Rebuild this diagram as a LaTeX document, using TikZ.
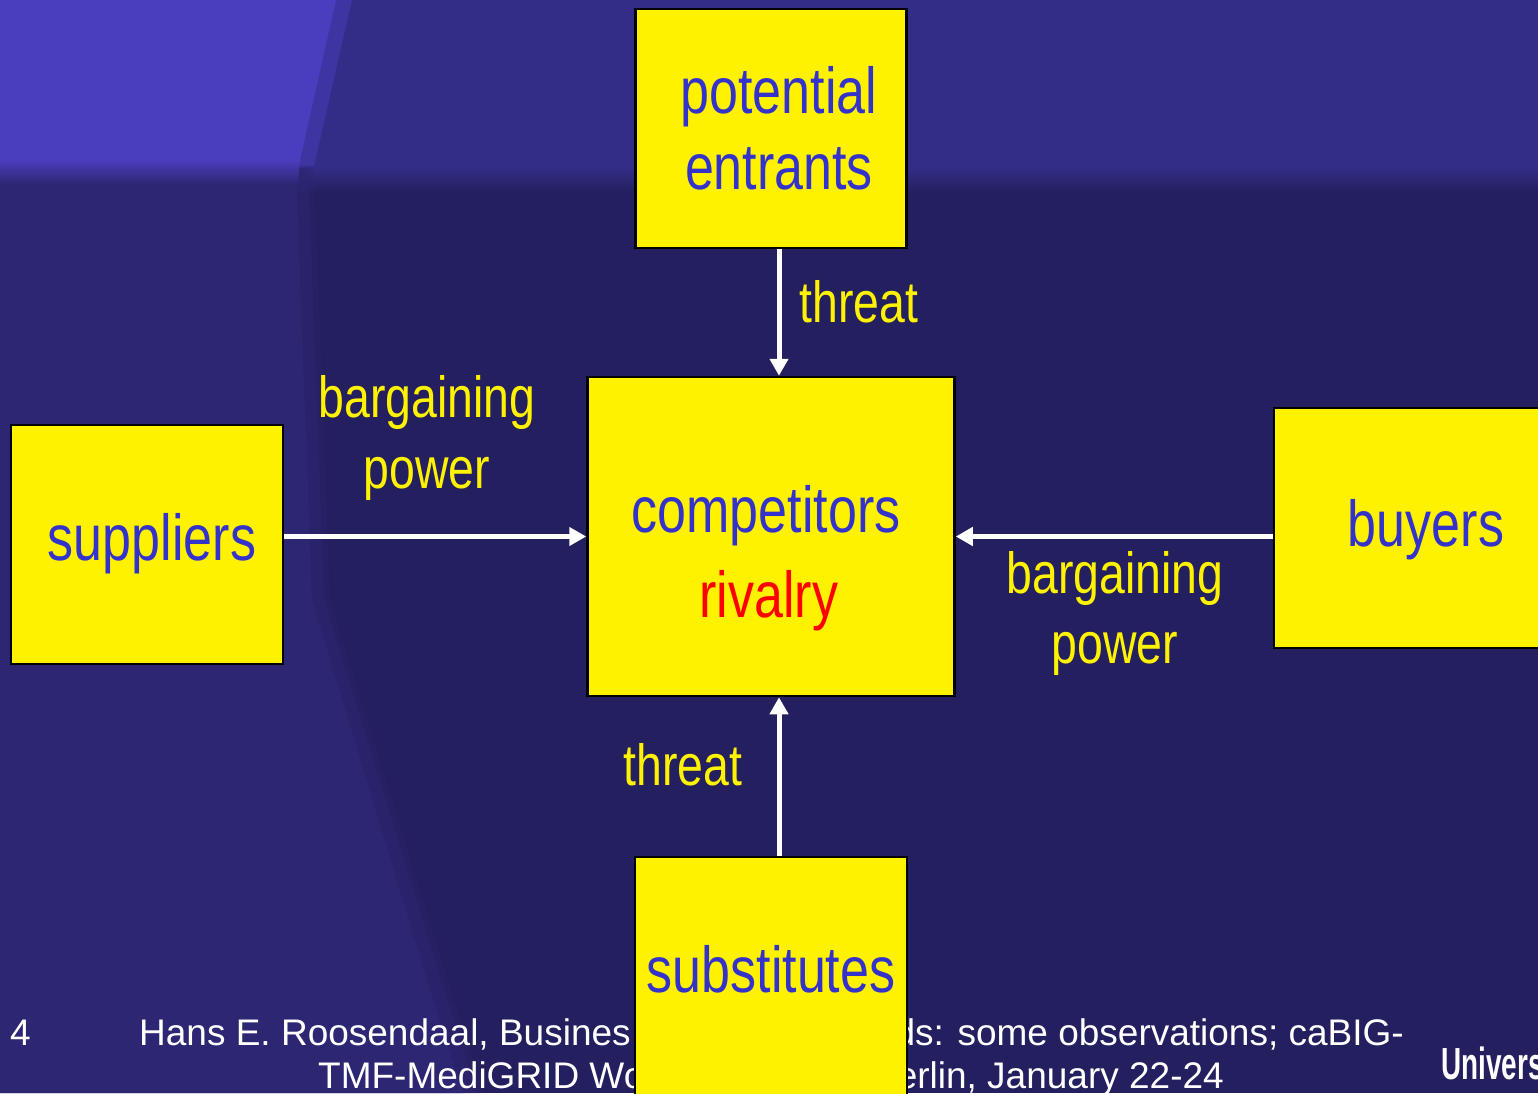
\documentclass[tikz,border=0pt]{standalone}
\usepackage{fontspec}
\setmainfont{Liberation Sans}
\newfontfamily\narrowfont[FakeStretch=0.8]{Liberation Sans}
\newfontfamily\logofont[FakeStretch=0.62]{Liberation Sans}
\usetikzlibrary{arrows.meta}

\definecolor{bgmain}{HTML}{241F5E}
\definecolor{bgtop}{HTML}{332D87}
\definecolor{bgleft}{HTML}{2D2672}
\definecolor{bgcorner}{HTML}{4A3DBE}
\definecolor{boxblue}{HTML}{3333CC}

\begin{document}
\begin{tikzpicture}[x=1pt,y=-1pt]
    \tikzstyle{box}=[
        draw=black,
        fill=yellow,
        line width=2.5pt,
        inner sep=0pt]
    \tikzstyle{word}=[inner sep=0pt, anchor=base, text=boxblue,
        font=\narrowfont\fontsize{65}{65}\selectfont]
    \tikzstyle{lbl}=[inner sep=0pt, anchor=base, text=yellow,
        font=\narrowfont\fontsize{58}{58}\selectfont]
    \tikzstyle{foot}=[inner sep=0pt, text=white,
        font=\fontsize{37}{37}\selectfont]
    \tikzstyle{flow}=[white, line width=5pt, -{Triangle[length=17pt,width=18pt]}]

    % background
    \useasboundingbox (0,0) rectangle (1538,1093);
    \fill[bgmain] (0,0) rectangle (1538,1093);
    \fill[bgtop] (0,0) rectangle (1538,168);
    \shade[top color=bgtop, bottom color=bgmain] (0,168) rectangle (1538,192);
    \fill[bgleft, opacity=0.35] (0,168) -- (314,168) -- (330,600) -- (454,1000) -- (484,1093) -- (0,1093) -- cycle;
    \fill[bgleft, opacity=0.5] (0,168) -- (308,168) -- (324,600) -- (447,1000) -- (477,1093) -- (0,1093) -- cycle;
    \fill[bgleft] (0,168) -- (296,168) -- (312,600) -- (433,1000) -- (463,1093) -- (0,1093) -- cycle;
    \fill[bgcorner, opacity=0.5] (0,0) -- (352,0) -- (314,166) -- (0,166) -- cycle;
    \fill[bgcorner] (0,0) -- (336,0) -- (300,160) -- (0,160) -- cycle;
    \shade[top color=bgcorner, bottom color=bgleft] (0,160) -- (300,160) -- (298,184) -- (0,184) -- cycle;

    % footer
    \node[foot, anchor=base west] (page) at (10,1045) {4};
    \node[foot, anchor=base west] (cite1) at (139,1045) {Hans E. Roosendaal, Busines};
    \node[foot, anchor=base east] (cite2) at (1404,1045) {ds: some observations; caBIG-};
    \node[foot, anchor=base west] (cite3) at (318,1088) {TMF-MediGRID Wo};
    \node[foot, anchor=base east] (cite4) at (1224,1088) {erlin, January 22-24};
    \node[anchor=base west, inner sep=0pt, text=white,
        font=\logofont\bfseries\fontsize{45}{45}\selectfont] (univ) at (1441,1079) {Univers};

    % forces
    \node[box, minimum width=271, minimum height=239] (entrants) at (771,128.5) {};
    \node[box, minimum width=367, minimum height=319] (rivals) at (771,536.5) {};
    \node[box, minimum width=272, minimum height=239] (suppliers) at (147,544.5) {};
    \node[box, minimum width=304, minimum height=240] (buyers) at (1426,528) {};
    \node[box, minimum width=272, minimum height=240] (substitutes) at (771,977) {};

    \draw[flow] ([xshift=8pt]entrants.south) -- ([xshift=8pt]rivals.north);
    \draw[flow] ([xshift=8pt]substitutes.north) -- ([xshift=8pt]rivals.south);
    \draw[flow] (suppliers.east |- rivals) -- (rivals.west);
    \draw[flow] (buyers.west |- rivals) -- (rivals.east);

    \node[word] (pot) at (779,113) {potential};
    \node[word] (ent) at (779,189) {entrants};
    \node[word] (comp) at (766,532) {competitors};
    \node[word, text=red] (riv) at (769,617) {rivalry};
    \node[word] (sup) at (152,560) {suppliers};
    \node[word] (buy) at (1426,546) {buyers};
    \node[word] (subs) at (771,992) {substitutes};

    \node[lbl] (thrtop) at (859,322) {threat};
    \node[lbl] (thrbot) at (683,785) {threat};
    \node[lbl] (barsup) at (427,417) {bargaining};
    \node[lbl] (powsup) at (427,488) {power};
    \node[lbl] (barbuy) at (1115,593) {bargaining};
    \node[lbl] (powbuy) at (1115,663) {power};
\end{tikzpicture}
\end{document}
